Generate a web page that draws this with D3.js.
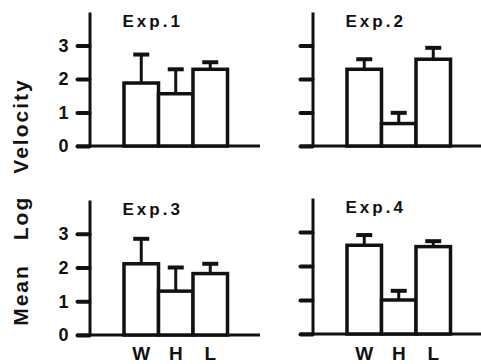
<!DOCTYPE html>
<html>
<head>
    <meta charset="utf-8">
    <title>mean log velocity</title>
    <script src="https://cdn.jsdelivr.net/npm/d3@7/dist/d3.min.js"></script>
</head>
<body style="margin:0;background:#fff;">
<style type="text/css">
    text {font-family: "Liberation Sans", Arial, sans-serif; font-weight: bold; fill: #111;}
    .frame {stroke: #111; fill: none; stroke-width: 3;}
    .bar {stroke: #111; fill: #fff; stroke-width: 3.5;}
    .err {stroke: #111; stroke-width: 3;}
    .cap {stroke: #111; stroke-width: 4;}
</style>
<div id="container"></div>

<script type="text/javascript">
    const w = 481;
    const h = 364;

    // data
    const categories = ['W', 'H', 'L'];
    const titles = ['Exp.1', 'Exp.2', 'Exp.3', 'Exp.4'];
    const means = [
        [1.88, 1.56, 2.29],
        [2.29, 0.67, 2.59],
        [2.11, 1.30, 1.82],
        [2.61, 1.00, 2.57]
    ];
    const sems = [
        [0.85, 0.73, 0.21],
        [0.30, 0.32, 0.34],
        [0.74, 0.70, 0.29],
        [0.30, 0.27, 0.16]
    ];
    const yTicks = [0, 1, 2, 3];
    const yLabelWords = ['Mean', 'Log', 'Velocity'];

    const svg = d3.select('div#container')
        .append('svg')
        .attr('width', w)
        .attr('height', h);

    // panel layout: y axis x, baseline y, top of axis, right end of x axis
    const panels = [
        {ax: 89.5, base: 146, top: 12, right: 260, labels: true, bottom: false, ty: 27},
        {ax: 312.5, base: 146, top: 12, right: 481, labels: false, bottom: false, ty: 27},
        {ax: 89.5, base: 335, top: 200, right: 260, labels: true, bottom: true, ty: 215},
        {ax: 312.5, base: 334, top: 198, right: 481, labels: false, bottom: true, ty: 213}
    ];

    panels.forEach((p, i) => {
        const g = svg.append('g');

        const y = d3.scaleLinear()
            .domain([0, 4])
            .range([p.base, p.top]);

        const x = d3.scaleBand()
            .domain(categories)
            .range([p.ax + 34.5, p.ax + 138])
            .padding(0);

        // x axis line
        g.append('line')
            .attr('class', 'frame')
            .attr('x1', p.ax - 13)
            .attr('x2', p.right)
            .attr('y1', p.base)
            .attr('y2', p.base);

        // y axis
        const axis = d3.axisLeft(y)
            .tickValues(yTicks)
            .tickSize(12)
            .tickSizeOuter(0)
            .tickPadding(9)
            .tickFormat(p.labels ? d3.format('d') : '');

        const ag = g.append('g')
            .attr('transform', `translate(${p.ax},0)`)
            .call(axis);
        ag.select('.domain')
            .attr('stroke', '#111')
            .attr('stroke-width', 3);
        ag.selectAll('.tick line')
            .attr('stroke', '#111')
            .attr('stroke-width', 4)
            .attr('stroke-linecap', 'round');
        ag.selectAll('.tick text')
            .style('font-size', '18px')
            .style('font-family', '"Liberation Sans", Arial, sans-serif')
            .style('font-weight', 'bold')
            .attr('fill', '#111');

        // error bars first, bars cover the lower part
        const cx = d => x(d) + x.bandwidth() / 2;
        g.selectAll('line.err')
            .data(categories)
            .enter()
            .append('line')
            .attr('class', 'err')
            .attr('x1', d => cx(d))
            .attr('x2', d => cx(d))
            .attr('y1', (d, j) => y(means[i][j]))
            .attr('y2', (d, j) => y(means[i][j] + sems[i][j]));

        g.selectAll('line.cap')
            .data(categories)
            .enter()
            .append('line')
            .attr('class', 'cap')
            .attr('x1', d => cx(d) - 8)
            .attr('x2', d => cx(d) + 8)
            .attr('y1', (d, j) => y(means[i][j] + sems[i][j]))
            .attr('y2', (d, j) => y(means[i][j] + sems[i][j]));

        g.selectAll('rect.bar')
            .data(categories)
            .enter()
            .append('rect')
            .attr('class', 'bar')
            .attr('x', d => x(d))
            .attr('width', x.bandwidth())
            .attr('y', (d, j) => y(means[i][j]))
            .attr('height', (d, j) => y(0) - y(means[i][j]));

        // title
        g.append('text')
            .attr('x', p.ax + 33)
            .attr('y', p.ty)
            .style('font-size', '17px')
            .style('letter-spacing', '3px')
            .text(titles[i]);

        // category labels under bottom row
        if (p.bottom) {
            g.selectAll('text.cat')
                .data(categories)
                .enter()
                .append('text')
                .attr('class', 'cat')
                .attr('x', d => cx(d))
                .attr('y', 360)
                .attr('text-anchor', 'middle')
                .style('font-size', '19px')
                .text(d => d);
        }
    });

    // rotated y label, words spread along the left edge
    const wordY = [295, 218, 126];
    svg.selectAll('text.ylab')
        .data(yLabelWords)
        .enter()
        .append('text')
        .attr('class', 'ylab')
        .attr('transform', (d, i) => `translate(28,${wordY[i]}) rotate(-90)`)
        .attr('text-anchor', 'middle')
        .style('font-size', '21px')
        .style('letter-spacing', '2px')
        .text(d => d);
</script>
</body>
</html>
